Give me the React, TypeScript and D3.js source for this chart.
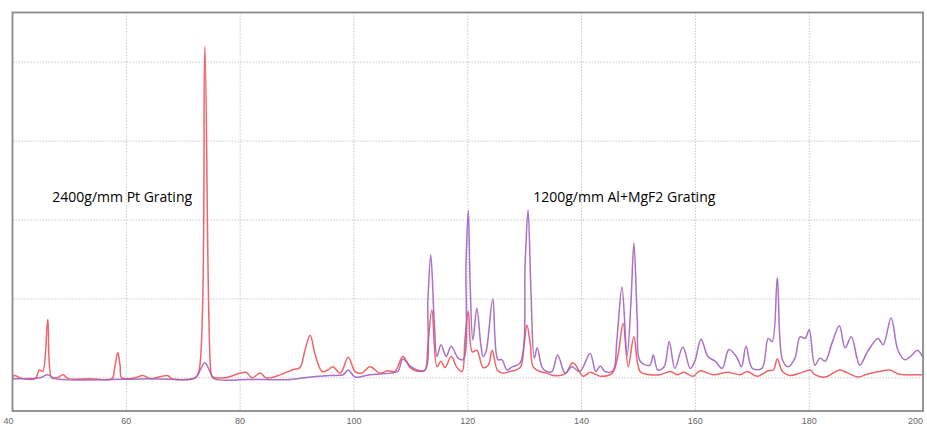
import * as d3 from "d3";

// wavelength (nm) and relative counts
const redX = [40.0, 40.4, 41.3, 44.0, 44.7, 45.3, 46.2, 46.9, 47.8, 48.9, 49.8, 53.6, 57.5, 57.9, 58.5, 58.9, 59.2, 61.5, 62.9, 64.2, 67.2, 68.0, 72.1, 72.8, 73.8, 74.9, 75.1, 77.3, 81.0, 82.1, 83.5, 84.6, 87.5, 89.1, 90.5, 91.4, 92.3, 93.2, 94.4, 95.4, 96.3, 97.6, 99.0, 100.2, 101.4, 102.8, 104.6, 106.0, 107.2, 108.6, 109.9, 111.6, 112.5, 113.0, 113.7, 114.6, 115.3, 116.0, 117.1, 118.1, 119.0, 119.5, 120.1, 120.8, 121.6, 122.7, 123.6, 124.3, 125.2, 126.2, 127.4, 129.2, 129.9, 130.4, 131.0, 131.5, 132.7, 133.9, 135.0, 137.1, 138.5, 140.3, 141.5, 143.3, 145.4, 146.4, 147.3, 148.2, 149.2, 150.3, 152.0, 153.8, 155.6, 156.8, 158.0, 159.6, 160.8, 163.1, 165.7, 167.9, 169.1, 170.9, 172.8, 173.7, 174.4, 175.3, 176.6, 178.4, 180.2, 181.0, 182.8, 185.4, 186.8, 188.6, 190.3, 192.4, 194.2, 195.6, 197.7, 199.9];
const redY = [0.01, 0.03, 0.0, -0.01, 0.1, 0.08, 0.74, 0.0, 0.0, 0.04, -0.01, -0.01, -0.01, 0.1, 0.32, 0.16, 0.0, 0.0, 0.03, -0.01, 0.03, -0.01, 0.0, 0.1, 4.2, 0.05, 0.02, 0.0, 0.07, 0.0, 0.06, 0.0, 0.05, 0.1, 0.13, 0.35, 0.54, 0.29, 0.08, 0.1, 0.14, 0.06, 0.26, 0.08, 0.06, 0.14, 0.06, 0.09, 0.08, 0.27, 0.13, 0.08, 0.1, 0.42, 0.86, 0.14, 0.21, 0.13, 0.27, 0.13, 0.08, 0.48, 0.84, 0.33, 0.35, 0.13, 0.16, 0.35, 0.1, 0.06, 0.08, 0.13, 0.42, 0.67, 0.42, 0.14, 0.08, 0.06, 0.03, 0.05, 0.19, 0.02, 0.07, 0.02, 0.06, 0.29, 0.69, 0.14, 0.52, 0.08, 0.04, 0.04, 0.08, 0.04, 0.07, 0.02, 0.09, 0.04, 0.07, 0.04, 0.08, 0.02, 0.09, 0.1, 0.24, 0.08, 0.03, 0.06, 0.1, 0.04, 0.01, 0.1, 0.06, 0.01, 0.05, 0.08, 0.1, 0.05, 0.04, 0.04];

const purpleX = [40.0, 44.8, 46.2, 47.5, 64.2, 72.1, 73.0, 73.8, 74.7, 75.4, 81.7, 88.8, 92.3, 95.8, 98.1, 99.0, 100.2, 102.8, 106.3, 107.7, 108.6, 109.9, 111.1, 112.5, 113.0, 113.5, 114.1, 114.6, 115.3, 116.2, 117.1, 118.3, 119.2, 119.7, 120.1, 120.4, 120.9, 121.6, 122.3, 122.7, 123.2, 124.4, 125.3, 126.0, 126.9, 127.8, 129.2, 130.1, 130.6, 131.1, 131.7, 132.2, 133.1, 133.9, 134.8, 135.8, 137.1, 138.3, 139.7, 141.5, 142.5, 143.3, 144.1, 145.5, 146.2, 147.1, 148.0, 148.7, 149.2, 149.8, 150.3, 152.0, 152.6, 153.4, 154.5, 155.4, 156.4, 157.8, 159.1, 159.9, 161.0, 162.2, 163.5, 164.7, 165.9, 167.2, 168.1, 168.9, 170.0, 171.7, 172.8, 173.5, 174.4, 175.3, 176.3, 177.5, 178.4, 179.3, 180.0, 181.0, 181.9, 182.8, 184.0, 185.3, 186.3, 187.4, 188.4, 188.9, 190.4, 192.1, 193.0, 194.4, 195.6, 196.8, 198.1, 199.0, 199.9];
const purpleY = [-0.01, 0.0, 0.04, -0.01, -0.01, 0.0, 0.1, 0.19, 0.08, -0.01, -0.02, -0.02, 0.01, 0.03, 0.04, 0.1, 0.01, 0.04, 0.06, 0.08, 0.24, 0.15, 0.1, 0.1, 0.99, 1.56, 0.73, 0.27, 0.42, 0.27, 0.4, 0.25, 0.23, 1.49, 2.12, 1.24, 0.48, 0.88, 0.42, 0.27, 0.33, 1.0, 0.23, 0.23, 0.1, 0.14, 0.19, 1.49, 2.13, 1.11, 0.25, 0.38, 0.13, 0.08, 0.08, 0.29, 0.06, 0.14, 0.08, 0.31, 0.08, 0.15, 0.08, 0.09, 0.48, 1.15, 0.28, 0.99, 1.71, 0.73, 0.21, 0.16, 0.29, 0.1, 0.14, 0.46, 0.12, 0.39, 0.12, 0.21, 0.49, 0.27, 0.21, 0.12, 0.36, 0.27, 0.14, 0.4, 0.12, 0.12, 0.5, 0.46, 1.27, 0.23, 0.14, 0.25, 0.52, 0.5, 0.61, 0.16, 0.25, 0.21, 0.44, 0.66, 0.38, 0.52, 0.25, 0.16, 0.35, 0.5, 0.42, 0.76, 0.35, 0.23, 0.29, 0.35, 0.27];

const xTicks = [40, 60, 80, 100, 120, 140, 160, 180, 200];
const yTicks = [0, 1, 2, 3, 4];

const labels = [
  { text: "2400g/mm Pt Grating", x: 47, y: 2.23 },
  { text: "1200g/mm Al+MgF2 Grating", x: 131.5, y: 2.23 },
];

export default function App() {
  const width = 927;
  const height = 425;
  const margin = { top: 12.5, right: 4, bottom: 14, left: 12.5 };

  const x = d3
    .scaleLinear()
    .domain([40, 200])
    .range([margin.left, width - margin.right]);
  // baseline (0) sits on the lowest gridline, frame goes a bit below it
  const y = d3
    .scaleLinear()
    .domain([-0.42, 4.63])
    .range([height - margin.bottom, margin.top]);

  const path = (xs: number[], ys: number[]) =>
    d3
      .line<number>()
      .x((_, i) => x(xs[i]))
      .y((_, i) => y(ys[i]))
      .curve(d3.curveCatmullRom.alpha(0.5))(xs) || "";

  const redPath = path(redX, redY);
  const purplePath = path(purpleX, purpleY);

  return (
    <svg
      width={width}
      height={height}
      style={{ position: "absolute", left: 0, top: 0, background: "#fff" }}
    >
      {/* gridlines */}
      {xTicks.slice(1, -1).map((t) => (
        <line
          key={"vx" + t}
          x1={x(t)}
          x2={x(t)}
          y1={y(4.63)}
          y2={y(-0.42)}
          stroke="#c8c8c8"
          strokeWidth={1}
          strokeDasharray="1.5,1.5"
        />
      ))}
      {yTicks.map((t) => (
        <line
          key={"hy" + t}
          x1={x(40)}
          x2={x(200)}
          y1={y(t)}
          y2={y(t)}
          stroke="#c8c8c8"
          strokeWidth={1}
          strokeDasharray="1.5,1.5"
        />
      ))}

      {/* series */}
      <path
        d={redPath}
        fill="none"
        stroke="#f06468"
        strokeWidth={1.5}
        strokeLinejoin="round"
      />
      <path
        d={purplePath}
        fill="none"
        stroke="#a062c2"
        strokeWidth={1.5}
        strokeLinejoin="round"
        strokeOpacity={0.9}
      />

      {/* frame */}
      <rect
        x={x(40)}
        y={y(4.63)}
        width={x(200) - x(40)}
        height={y(-0.42) - y(4.63)}
        fill="none"
        stroke="#8a8a8a"
        strokeWidth={1.8}
      />

      {/* x tick labels along the bottom edge */}
      {xTicks.map((t, i) => (
        <text
          key={"tx" + t}
          x={x(t)}
          y={height - 1}
          textAnchor={i === 0 ? "start" : i === xTicks.length - 1 ? "end" : "middle"}
          dx={i === 0 ? -9 : 0}
          fontFamily="'Liberation Sans', sans-serif"
          fontSize={9}
          fill="#666"
        >
          {t}
        </text>
      ))}

      {labels.map((l) => (
        <text
          key={l.text}
          x={x(l.x)}
          y={y(l.y)}
          fontFamily="'Open Sans', sans-serif"
          fontSize={14}
          fill="#000"
        >
          {l.text}
        </text>
      ))}
    </svg>
  );
}
